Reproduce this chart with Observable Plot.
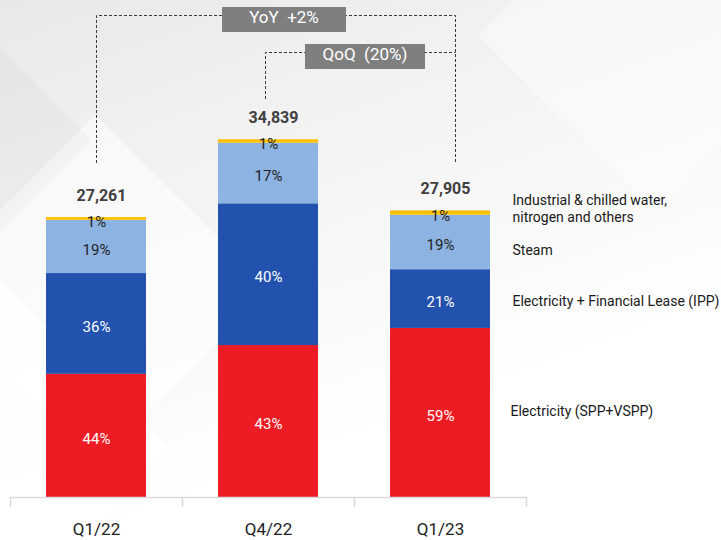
<!DOCTYPE html>
<html>
<head>
<meta charset="utf-8">
<script src="https://cdn.jsdelivr.net/npm/d3@7"></script>
<script src="https://cdn.jsdelivr.net/npm/@observablehq/plot@0.6"></script>
<style>
  html, body { margin: 0; padding: 0; background: #ffffff; }
  #wrap { position: relative; width: 721px; height: 540px; overflow: hidden;
    background: linear-gradient(160deg, #e8e8e8 0%, #f1f1f1 25%, #f8f8f8 50%, #ffffff 72%); }
  .dia { position: absolute; transform: rotate(45deg); }
  #chart { position: absolute; left: 0; top: 0; }
  svg text { font-family: Roboto, "Noto Sans", sans-serif; }
</style>
</head>
<body>
<div id="wrap">
  <div class="dia" style="left:-28px;top:166px;width:247px;height:247px;background:rgba(255,255,255,0.55);"></div>
  <div class="dia" style="left:-150px;top:40px;width:200px;height:200px;background:rgba(0,0,0,0.025);"></div>
  <div class="dia" style="left:530px;top:-90px;width:250px;height:250px;background:rgba(255,255,255,0.4);"></div>
  <div class="dia" style="left:-120px;top:330px;width:240px;height:240px;background:rgba(255,255,255,0.8);"></div>
  <div id="chart"></div>
</div>
<script>
// ---- data ----
const quarters = ["Q1/22", "Q4/22", "Q1/23"];
const totals = [27261, 34839, 27905];
const segments = [
  "Electricity (SPP+VSPP)",
  "Electricity + Financial Lease (IPP)",
  "Steam",
  "Industrial & chilled water,\nnitrogen and others"
];
const segmentColors = ["#ED1C24", "#2352AE", "#8DB3E2", "#FFC000"];
const sppValues   = [11995, 14800, 16464];
const ippValues   = [9814, 13800, 5720];
const steamValues = [5180, 5900, 5302];
const otherValues = [272, 339, 419];
const sppPct   = ["44%", "43%", "59%"];
const ippPct   = ["36%", "40%", "21%"];
const steamPct = ["19%", "17%", "19%"];
const otherPct = ["1%", "1%", "1%"];
const comparisons = [
  {label: "YoY  +2%", from: "Q1/22", to: "Q1/23"},
  {label: "QoQ  (20%)", from: "Q4/22", to: "Q1/23"}
];

// ---- tables ----
const seriesValues = [sppValues, ippValues, steamValues, otherValues];
const seriesPct = [sppPct, ippPct, steamPct, otherPct];
const rows = [];
segments.forEach((s, i) => quarters.forEach((q, j) => {
  rows.push({quarter: q, segment: s, idx: i, value: seriesValues[i][j], label: seriesPct[i][j]});
}));
const totalRows = quarters.map((q, j) => ({quarter: q, total: totals[j]}));
const lastRows = rows.filter(d => d.quarter === quarters[quarters.length - 1]);

const legendDy = [-2, 1.5, 7, -5];
const legendDx = [70, 72, 72, 72];

const plot = Plot.plot({
  width: 721,
  height: 540,
  marginLeft: 10,
  marginRight: 195,
  marginTop: 0,
  marginBottom: 43,
  style: {background: "transparent", fontFamily: "Roboto, 'Noto Sans', sans-serif"},
  x: {domain: quarters, paddingInner: 0.419, paddingOuter: 0.2095, align: 0.5, label: null},
  y: {domain: [0, 48400], axis: null},
  color: {domain: segments, range: segmentColors},
  marks: [
    Plot.barY(rows, {x: "quarter", y: "value", fill: "segment", z: "segment"}),
    Plot.text(rows, Plot.stackY({x: "quarter", y: "value", z: "segment",
      text: d => d.idx < 2 ? d.label : "", fill: "white", fontSize: 15, dy: 3})),
    Plot.text(rows, Plot.stackY({x: "quarter", y: "value", z: "segment",
      text: d => d.idx >= 2 ? d.label : "", fill: d => "#1f1f1f", fontSize: 15, dy: 3})),
    Plot.text(totalRows, {x: "quarter", y: "total", text: d => d3.format(",")(d.total),
      dy: -22, dx: 5, fontSize: 16, fontWeight: "bold", fill: "#404040"}),
    ...segments.map((s, i) => Plot.text(lastRows, Plot.stackY({x: "quarter", y: "value", z: "segment",
      text: d => d.segment === s ? s : "", textAnchor: "start", dx: legendDx[i], dy: legendDy[i],
      fontSize: 14, fill: "#1a1a1a", lineHeight: 1.2}))),
    Plot.ruleY([0], {stroke: "#d9d9d9", strokeWidth: 1.5}),
    Plot.axisX({tickSize: 10, text: null, label: null, dx: -86, stroke: "#d9d9d9", strokeWidth: 1.5}),
    Plot.axisX([quarters[quarters.length - 1]], {tickSize: 10, text: null, label: null, dx: 86, stroke: "#d9d9d9", strokeWidth: 1.5}),
    Plot.axisX({tickSize: 0, tickPadding: 25, fontSize: 17, color: "#222", label: null})
  ]
});
document.getElementById("chart").appendChild(plot);

// ---- comparison brackets, positioned through the plot's scales ----
const xs = plot.scale("x"), ys = plot.scale("y");
const crisp = v => Math.round(v) + 0.5;
const cx = q => xs.apply(q) + xs.bandwidth / 2;
const topOf = q => ys.apply(totals[quarters.indexOf(q)]);
const svg = d3.select(plot);
const g = svg.append("g");
const levels = [15, 52];
const boxShift = [8, 4];
const boxW = [124, 120];
comparisons.forEach((c, i) => {
  const x1 = crisp(cx(c.from) + (i === 0 ? 0 : -3));
  const x2 = crisp(cx(c.to) + 15);
  const yL = crisp(levels[i]);
  const b1 = Math.round(topOf(c.from) - (i === 0 ? 54 : 40));
  const b2 = Math.round(topOf(c.to) - 48);
  const path = i === 0
    ? `M${x1},${b1}V${yL}H${x2}V${b2}`
    : `M${x1},${b1}V${yL}H${x2}`;
  g.append("path").attr("d", path).attr("fill", "none")
    .attr("stroke", "#3a3a3a").attr("stroke-width", 1).attr("stroke-dasharray", "3,2");
  const mid = Math.round((x1 + x2) / 2 + boxShift[i]);
  g.append("rect").attr("x", mid - boxW[i] / 2).attr("y", Math.round(yL - 9)).attr("width", boxW[i]).attr("height", 25)
    .attr("fill", "#7f7f7f");
  g.append("text").attr("x", mid).attr("y", yL + 3.5).attr("text-anchor", "middle")
    .attr("dominant-baseline", "middle").attr("fill", "white").attr("font-size", 17)
    .style("white-space", "pre").text(c.label);
});
</script>
</body>
</html>
